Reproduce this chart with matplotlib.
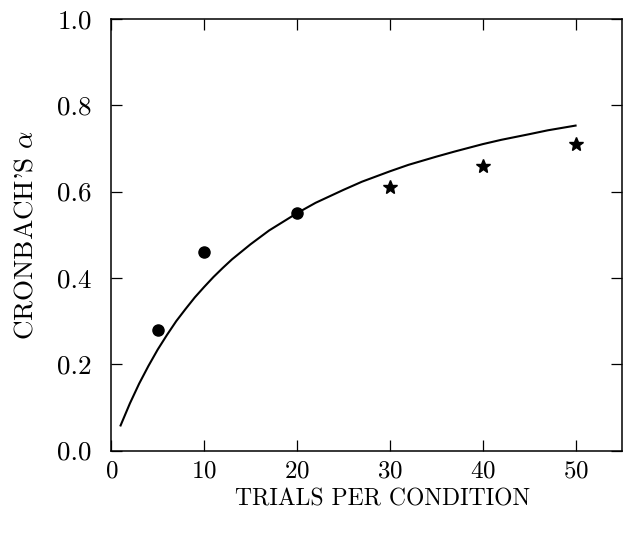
import matplotlib
matplotlib.use("Agg")
import matplotlib.pyplot as plt

# observed reliabilities
obs_trials = [5, 10, 20]
obs_alpha = [0.28, 0.46, 0.55]
# extrapolated points (stars)
star_trials = [30, 40, 50]
star_alpha = [0.61, 0.66, 0.71]
# predicted curve
curve_trials = [1, 2, 3, 4, 5, 6, 7, 8, 9, 10, 11, 12, 13, 15, 17, 20, 22,
                25, 27, 30, 32, 35, 37, 40, 42, 45, 47, 50]
curve_alpha = [0.058, 0.109, 0.155, 0.196, 0.234, 0.268, 0.300, 0.328, 0.355,
               0.379, 0.402, 0.423, 0.443, 0.478, 0.510, 0.550, 0.574,
               0.604, 0.623, 0.647, 0.662, 0.681, 0.693, 0.710, 0.720,
               0.733, 0.742, 0.753]

xticks = [0, 10, 20, 30, 40, 50]
yticks = [0.0, 0.2, 0.4, 0.6, 0.8, 1.0]

plt.rcParams['font.family'] = 'serif'
plt.rcParams['font.serif'] = ['cmr10', 'DejaVu Serif']
plt.rcParams['mathtext.fontset'] = 'cm'
plt.rcParams['axes.unicode_minus'] = False
plt.rcParams['axes.formatter.use_mathtext'] = True


def main():
    fig = plt.figure(figsize=(6.23, 5.35), dpi=100)
    ax = fig.add_axes([111.3 / 623, 84.5 / 535, 510.7 / 623, 431.5 / 535])

    ax.plot(curve_trials, curve_alpha, color='black', lw=1.5)
    ax.plot(obs_trials, obs_alpha, 'o', color='black', ms=8)
    ax.plot(star_trials, star_alpha, '*', color='black', ms=10)

    ax.set_xlim(0, 55)
    ax.set_ylim(0, 1.0)
    ax.set_xticks(xticks)
    ax.set_yticks(yticks)
    ax.set_yticklabels(['%.1f' % v for v in yticks])
    ax.tick_params(direction='in', top=True, right=True, length=8, width=0.9)
    ax.tick_params(axis='x', labelsize=18, pad=7)
    ax.tick_params(axis='y', labelsize=19.5, pad=14)
    for s in ax.spines.values():
        s.set_linewidth(1.1)

    ax.set_xlabel('TRIALS PER CONDITION', fontsize=17)
    ax.xaxis.set_label_coords(0.532, -0.088)
    ax.set_ylabel("CRONBACH'S $\\alpha$", fontsize=19.5, labelpad=14)

    plt.savefig('out.png', dpi=100)


if __name__ == "__main__":
    main()
